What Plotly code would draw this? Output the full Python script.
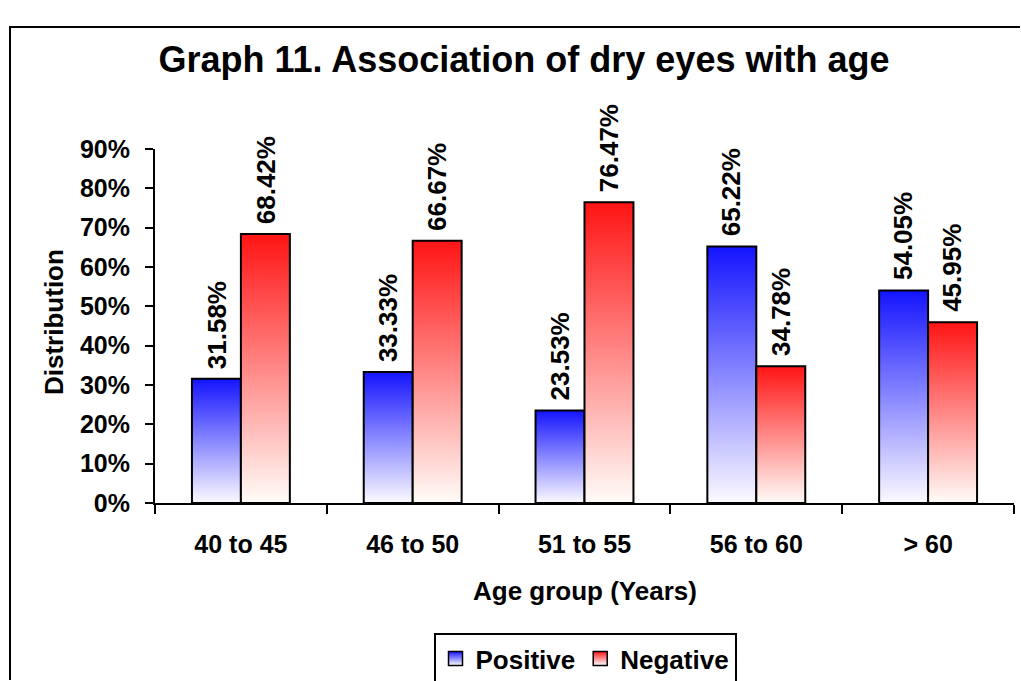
import plotly.graph_objects as go

categories = ["40 to 45", "46 to 50", "51 to 55", "56 to 60", "> 60"]
positive = [0.3158, 0.3333, 0.2353, 0.6522, 0.5405]
negative = [0.6842, 0.6667, 0.7647, 0.3478, 0.4595]
series = [
    ("Positive", positive, "rgb(20,20,255)", "rgb(252,250,255)"),
    ("Negative", negative, "rgb(255,20,20)", "rgb(255,252,248)"),
]

FONT = "Liberation Sans, Arial, sans-serif"
W = 1021
H = 681
ML, MR, MT, MB = 155, 7, 149, 178
BAR_W = 0.285
PW = W - ML - MR
PH = H - MT - MB

fig = go.Figure()
idx = list(range(len(categories)))
annotations = []

for k, (name, vals, col, light) in enumerate(series):
    for i, v in zip(idx, vals):
        left = i - BAR_W if k == 0 else i
        right = i if k == 0 else i + BAR_W
        fig.add_trace(go.Scatter(
            x=[left, left, right, right, left],
            y=[0, v, v, 0, 0],
            mode="lines", fill="toself",
            line=dict(color="black", width=2),
            fillcolor=col,
            fillgradient=dict(type="vertical",
                              colorscale=[[0, light], [1, col]]),
            showlegend=False, hoverinfo="skip",
        ))
        annotations.append(dict(
            x=(left + right) / 2, y=v, xref="x", yref="y",
            text=f"{v:.2%}", textangle=-90, showarrow=False,
            xanchor="center", yanchor="bottom", yshift=8,
            font=dict(family=FONT, size=26, color="black", weight="bold"),
        ))

for name, vals, col, light in series:
    fig.add_trace(go.Scatter(
        x=[None], y=[None], mode="markers", name=name,
        marker=dict(symbol="square", size=14, color=col,
                    gradient=dict(type="vertical", color="white"),
                    line=dict(color="black", width=1.5)),
    ))

annotations += [
    dict(text="Distribution", textangle=-90, xref="paper", yref="paper",
         x=(54 - ML) / PW, y=(H - MB - 322) / PH,
         xanchor="center", yanchor="middle", showarrow=False,
         font=dict(family=FONT, size=26, color="black", weight="bold")),
    dict(text="Age group (Years)", xref="paper", yref="paper",
         x=(585 - ML) / PW, y=(H - MB - 591) / PH,
         xanchor="center", yanchor="middle", showarrow=False,
         font=dict(family=FONT, size=26, color="black", weight="bold")),
]

fl = (10 - ML) / PW
ft = (H - MB - 27) / PH
fb = (H - MB - (H - 1)) / PH
fr = (W - 1 - ML) / PW
frame_path = f"M {fr},{ft} L {fl},{ft} L {fl},{fb}"

fig.update_layout(
    width=W, height=H,
    margin=dict(l=ML, r=MR, t=MT, b=MB),
    paper_bgcolor="white", plot_bgcolor="white",
    font=dict(family=FONT, size=25, color="black", weight="bold"),
    title=dict(text="Graph 11. Association of dry eyes with age",
               x=524 / W, xref="container", xanchor="center",
               y=1 - 59 / H, yref="container", yanchor="middle",
               font=dict(family=FONT, size=36, color="black", weight="bold")),
    xaxis=dict(
        range=[-0.5, len(categories) - 0.5],
        tickvals=idx, ticktext=categories, ticks="",
        ticklabelstandoff=18,
        minor=dict(tick0=0.5, dtick=1, ticks="outside", ticklen=9,
                   tickwidth=2, tickcolor="black", showgrid=False),
        showline=True, linecolor="black", linewidth=2,
        showgrid=False, zeroline=False, fixedrange=True,
        tickfont=dict(size=25),
    ),
    yaxis=dict(
        range=[0, 0.9], dtick=0.1, tickformat=".0%",
        ticks="outside", ticklen=8, tickwidth=2, tickcolor="black",
        ticklabelstandoff=10,
        showline=True, linecolor="black", linewidth=2,
        showgrid=False, zeroline=False, fixedrange=True,
        tickfont=dict(size=25),
    ),
    legend=dict(
        orientation="h", x=585 / W, xref="container", xanchor="center",
        y=1 - 633 / H, yref="container", yanchor="top",
        bordercolor="black", borderwidth=2, bgcolor="white",
        font=dict(family=FONT, size=26, color="black", weight="bold"),
        itemwidth=30, tracegroupgap=0,
    ),
    annotations=annotations,
    shapes=[
        dict(type="path", xref="paper", yref="paper", path=frame_path,
             line=dict(color="black", width=2), fillcolor="rgba(0,0,0,0)"),
        dict(type="line", xref="paper", yref="paper",
             x0=-8 / PW, x1=0, y0=0, y1=0,
             line=dict(color="black", width=2)),
    ],
)

fig.write_html(
    "out.html",
    config={"displayModeBar": False},
    post_script="document.body.style.margin='0';"
                "document.body.style.overflow='hidden';",
)
